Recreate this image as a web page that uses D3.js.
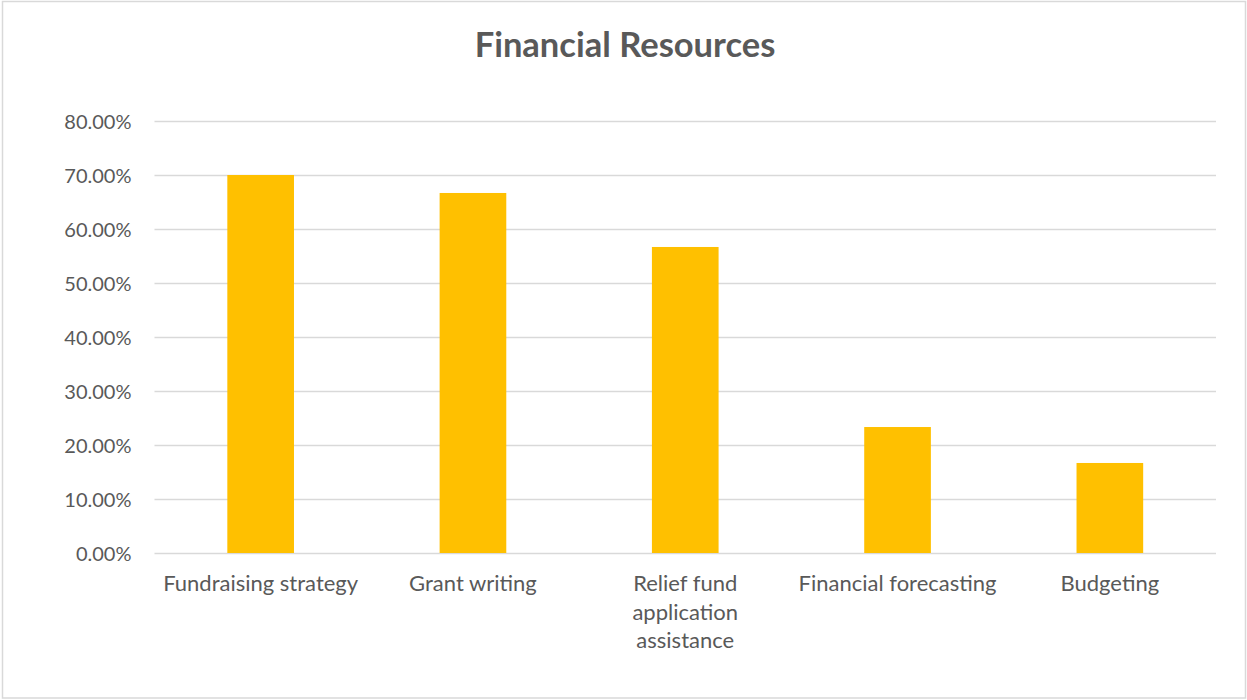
<!DOCTYPE html>
<html>
<head>
<meta charset="utf-8">
<script src="https://cdn.jsdelivr.net/npm/d3@7"></script>
<style>
  html, body { margin: 0; padding: 0; background: #fff; }
  svg { display: block; }
  text { font-family: Lato, "Open Sans", sans-serif; fill: #595959; }
</style>
</head>
<body>
<svg id="chart" width="1247" height="700"></svg>
<script>
// Share of respondents asking for each financial resource
const categories = [
  "Fundraising strategy",
  "Grant writing",
  "Relief fund application assistance",
  "Financial forecasting",
  "Budgeting"
];
const values = [0.70, 0.6667, 0.5667, 0.2333, 0.1667];
// Wrapped lines for the category labels
const labelLines = [
  ["Fundraising strategy"],
  ["Grant writing"],
  ["Relief fund", "application", "assistance"],
  ["Financial forecasting"],
  ["Budgeting"]
];
const yTicks = [0, 0.1, 0.2, 0.3, 0.4, 0.5, 0.6, 0.7, 0.8];
const title = "Financial Resources";

const W = 1247, H = 700;
const plot = { left: 154.5, right: 1216, top: 121, bottom: 553 };

const svg = d3.select("#chart");

// chart frame
svg.append("rect")
  .attr("x", 2.5).attr("y", 1.5)
  .attr("width", 1243).attr("height", 696.5)
  .attr("fill", "#fff")
  .attr("stroke", "#d9d9d9")
  .attr("stroke-width", 1.5);

const x = d3.scaleBand()
  .domain(categories)
  .range([plot.left, plot.right])
  .paddingInner(0.686)
  .paddingOuter(0.343);

const y = d3.scaleLinear()
  .domain([0, 0.8])
  .range([plot.bottom, plot.top]);

// horizontal gridlines
const yAxis = d3.axisLeft(y)
  .tickValues(yTicks)
  .tickSize(-(plot.right - plot.left))
  .tickPadding(23)
  .tickFormat(d3.format(".2%"));

const gy = svg.append("g")
  .attr("transform", `translate(${plot.left},0)`)
  .call(yAxis);
gy.select(".domain").remove();
gy.selectAll(".tick line")
  .attr("stroke", "#d9d9d9")
  .attr("stroke-width", 1.5);
gy.selectAll(".tick text")
  .attr("font-size", 20)
  .attr("fill", "#595959")
  .attr("dy", "0.36em")
  .style("font-family", "Lato, sans-serif");

// bars
svg.append("g")
  .selectAll("rect")
  .data(categories)
  .join("rect")
  .attr("x", d => x(d))
  .attr("width", x.bandwidth())
  .attr("y", (d, i) => y(values[i]))
  .attr("height", (d, i) => y(0) - y(values[i]))
  .attr("fill", "#ffc000");

// category axis labels
const gx = svg.append("g");
categories.forEach((c, i) => {
  const t = gx.append("text")
    .attr("text-anchor", "middle")
    .attr("font-size", 22)
    .attr("x", x(c) + x.bandwidth() / 2)
    .attr("y", 591);
  labelLines[i].forEach((line, j) => {
    t.append("tspan")
      .attr("x", x(c) + x.bandwidth() / 2)
      .attr("dy", j === 0 ? 0 : 28.5)
      .text(line);
  });
});

// title
svg.append("text")
  .attr("x", 625)
  .attr("y", 57)
  .attr("text-anchor", "middle")
  .attr("font-size", 34.5)
  .attr("font-weight", "bold")
  .text(title);
</script>
</body>
</html>
